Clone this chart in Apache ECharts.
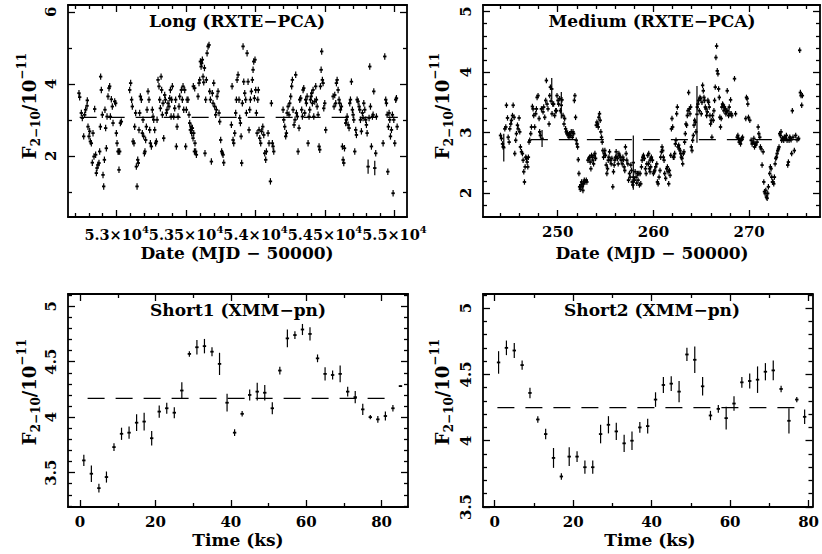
<!DOCTYPE html>
<html>
<head>
<meta charset="utf-8">
<script src="https://cdn.jsdelivr.net/npm/echarts@6/dist/echarts.min.js"></script>
<style>
html, body { margin: 0; padding: 0; background: #fff; }
#chart { width: 822px; height: 554px; }
</style>
</head>
<body>
<div id="chart"></div>
<script>
// Long (RXTE-PCA): [MJD, flux]
var longPts = [
  [52729,3.74],[52734,3.63],[52746,3.19],[52753,3.05],[52763,2.54],[52770,3.14],[52777,3.28],[52787,3.39],[52789,3.54],[52794,2.81],
  [52801,2.54],[52806,2.68],[52811,2.40],[52818,2.35],[52825,1.81],[52830,2.63],[52837,1.98],[52842,3.30],[52849,2.03],[52854,1.52],
  [52859,1.66],[52866,1.75],[52873,1.80],[52878,2.12],[52883,2.81],[52885,4.20],[52890,3.83],[52897,3.14],[52902,1.47],[52907,1.15],
  [52912,1.89],[52916,3.28],[52921,2.77],[52926,2.21],[52931,3.09],[52938,3.65],[52945,3.88],[52950,3.93],[52955,3.09],[52962,3.57],
  [52969,3.37],[52974,2.91],[52986,3.51],[52993,3.46],[52998,2.63],[53003,2.35],[53010,2.12],[53015,2.12],[53017,1.61],[53022,2.12],
  [53027,2.91],[53034,2.95],
  [53094,3.83],[53101,4.02],[53108,3.56],[53113,3.37],[53118,2.40],[53125,2.35],[53130,2.81],[53137,3.19],[53142,1.70],[53147,1.15],
  [53152,1.89],[53156,1.80],[53161,2.72],[53166,3.19],[53171,3.65],[53178,3.56],[53185,2.63],[53190,3.00],[53195,2.54],[53200,2.07],
  [53204,2.12],[53209,2.44],[53214,2.81],[53219,3.28],[53226,3.79],[53233,3.56],[53238,2.72],[53243,2.35],[53250,2.26],[53257,3.28],
  [53262,3.09],[53267,3.00],[53274,2.72],[53281,2.35],[53286,2.40],[53291,3.00],[53298,4.11],[53305,3.93],[53310,3.56],[53315,3.32],
  [53320,4.20],[53324,3.83],[53329,3.14],[53334,3.46],[53339,2.49],[53346,3.69],[53351,3.56],[53358,3.19],[53363,3.28],[53370,3.46],
  [53377,3.37],[53382,3.60],[53387,3.83],[53392,3.09],[53396,3.56],[53401,3.93],
  [53411,3.09],[53418,3.32],[53425,3.56],[53430,2.26],[53435,2.81],[53442,3.09],[53449,3.37],[53454,3.65],[53466,3.83],[53473,3.56],
  [53478,3.93],[53483,3.28],[53490,3.83],[53497,2.26],[53502,3.28],[53507,3.56],[53514,3.56],[53521,3.14],[53526,2.91],[53531,2.72],
  [53536,2.81],[53540,2.63],[53545,2.77],[53550,2.49],[53555,2.63],[53560,2.12],[53564,2.35],[53569,2.12],[53574,2.03],[53552,3.93],
  [53562,3.88],[53586,3.65],[53593,4.02],[53598,4.11],[53603,4.62],[53608,4.48],[53612,4.57],[53617,4.67],[53622,4.20],[53627,4.04],
  [53632,4.44],[53636,2.07],[53641,3.56],[53646,4.11],[53651,4.85],[53658,5.04],[53665,5.08],[53670,3.79],[53675,3.56],[53682,1.84],
  [53689,3.74],[53694,3.46],[53699,4.02],[53706,3.37],[53713,3.14],[53718,3.28],
  [53723,3.65],[53730,3.79],[53737,3.19],[53742,2.95],[53749,2.44],[53756,2.12],[53761,2.07],[53766,2.03],[53771,1.81],[53826,2.86],
  [53831,3.93],[53838,2.44],[53843,2.35],[53850,2.63],[53857,3.19],[53862,3.56],[53867,4.11],[53874,4.25],[53881,3.56],[53886,3.05],
  [53891,2.91],[53896,2.54],[53900,1.80],[53905,3.46],[53910,5.04],[53915,4.06],[53922,3.74],[53929,3.56],[53934,3.19],[53939,4.85],
  [53946,4.06],[53953,2.72],[53958,3.28],[53963,3.56],[53970,3.79],[53977,4.11],[53982,4.39],[53987,4.62],[53992,3.60],[53996,4.67],
  [54001,3.83],[54006,3.19],[54011,2.63],[54016,3.56],[54020,3.83],[54025,2.72],[54030,2.49],[54037,2.35],[54044,2.68],[54052,2.81],
  [54059,2.58],[54066,2.07],[54073,1.89],[54078,2.12],[54090,2.63],[54097,2.35],[54107,1.29],[54114,3.46],[54121,2.35],[54126,2.26],
  [54131,2.12],
  [54198,3.28],[54203,3.00],[54210,2.81],[54217,2.54],[54222,2.63],[54227,3.19],[54234,3.37],[54241,3.14],[54246,3.46],[54253,3.65],
  [54260,3.93],[54265,4.11],[54270,3.28],[54277,2.86],[54284,3.00],[54289,4.25],[54294,3.19],[54301,3.09],[54306,2.12],[54313,2.77],
  [54318,3.56],[54325,3.60],[54332,3.28],[54337,3.09],[54342,3.83],[54347,3.88],[54354,3.19],[54361,3.56],[54366,3.46],[54371,3.65],
  [54378,2.35],[54385,3.09],[54390,3.28],[54395,3.56],[54400,3.65],[54404,3.74],[54409,3.46],[54414,3.83],[54419,3.09],[54426,3.51],
  [54433,3.93],[54438,3.56],[54443,3.37],[54450,3.14],[54457,2.26],[54462,2.17],
  [54467,3.93],[54472,4.39],[54476,4.90],[54481,4.11],[54486,4.02],[54491,3.32],[54498,3.46],[54505,2.72],[54558,3.65],[54565,3.37],
  [54570,3.69],[54577,3.46],[54582,4.02],[54587,4.11],[54594,3.83],[54601,3.56],[54606,3.46],[54611,3.28],[54618,3.37],[54625,2.26],
  [54630,1.89],[54635,1.80],[54640,2.21],[54649,2.91],[54654,3.00],[54659,3.09],[54666,2.86],[54673,2.77],[54678,3.46],[54683,3.56],
  [54690,4.06],[54697,3.28],[54702,3.14],[54707,3.00],[54714,2.12],[54721,2.72],[54726,2.58],[54731,3.56],[54738,3.51],[54745,3.37],
  [54750,3.28],[54755,3.00],[54762,2.68],[54769,3.19],[54774,3.05],[54779,3.46],[54786,3.28],[54793,3.00],[54798,2.86],[54803,2.63],
  [54817,3.05],[54822,4.48],[54827,3.37],[54834,2.26],[54841,3.09],[54846,3.14],[54851,3.79],[54865,2.07],[54870,3.09],
  [54918,2.35],[54930,4.76],[54937,3.56],[54942,3.46],[54947,3.14],[54952,1.56],[54956,2.81],[54961,3.19],[54966,3.00],[54971,2.54],
  [54978,2.72],[54985,3.14],[54990,0.96],[54995,3.00],[55002,2.35],[55009,3.56],[55014,3.60],[55019,2.81]
];
var longErr = 0.09;
// points with larger error bars: [MJD, flux, err]
var longWide = [[54810,1.70,0.2],[54858,1.66,0.2]];
var longMean = 3.07;
var longSpan = [52734, 55024];

// Medium (RXTE-PCA): [MJD-50000, flux]
var medPts = [
  [244.03,2.95],[244.13,2.90],[244.24,2.81],[244.31,2.76],[244.48,3.06],[244.58,3.09],[244.65,3.45],[244.76,3.24],[244.83,2.92],[244.93,2.84],
  [245.00,3.06],[245.10,3.14],[245.17,3.20],[245.28,3.28],[245.35,3.45],[245.45,3.25],[245.52,2.65],[245.62,2.87],[245.69,2.98],[245.80,3.12],
  [245.87,3.06],[245.97,3.24],[246.04,3.01],[246.11,2.76],[246.22,2.68],[246.32,2.65],[246.39,2.54],[246.46,2.35],[246.53,2.18],[246.60,2.43],
  [246.67,2.59],[246.74,2.57],[246.81,2.51],[246.88,2.43],[246.94,2.59],[247.01,2.84],[247.08,2.87],[247.19,2.98],[247.26,3.09],[247.36,3.43],
  [247.43,3.39],[247.50,3.28],[247.60,3.09],[247.71,3.31],[247.78,3.39],[247.85,3.58],[247.95,3.61],[248.06,3.23],[248.12,3.01],[248.19,2.95],
  [248.30,3.39],[248.47,3.34],[248.54,3.42],[248.65,3.25],[248.75,3.53],[248.82,3.86],[248.89,3.47],[248.99,3.39],[249.10,3.14],[249.17,3.61],
  [249.24,3.75],[249.31,3.52],[249.41,3.31],[249.48,3.47],[249.58,3.47],[249.69,3.28],[249.79,3.36],[249.86,3.36],[249.93,3.61],[250.03,3.53],
  [250.10,3.47],[250.21,3.56],[250.28,3.36],[250.45,3.54],[250.56,3.28],[250.66,3.14],[250.73,3.23],[250.83,3.06],[250.90,3.01],[250.97,2.98],
  [251.04,2.99],[251.11,2.95],[251.18,2.92],[251.25,2.98],[251.32,2.95],[251.42,3.01],[251.53,2.92],[251.60,3.01],[251.67,2.98],[251.74,3.53],
  [251.80,3.61],[251.87,3.25],[251.94,2.87],[252.01,2.81],[252.08,2.76],[252.15,2.55],[252.22,2.32],[252.29,2.10],[252.36,2.06],[252.43,2.13],
  [252.50,2.18],[252.57,2.10],[252.64,2.04],[252.71,2.15],[252.78,2.21],[252.85,2.18],[252.99,2.21],[253.05,2.18],[253.16,2.54],[253.26,2.57],
  [253.33,2.59],[253.40,2.51],[253.47,2.40],[253.54,2.62],[253.61,2.59],[253.68,2.54],[253.75,2.48],[253.82,2.62],[253.89,2.65],[253.96,2.57],
  [254.03,3.12],[254.10,3.17],[254.17,3.14],[254.24,3.09],[254.30,3.25],[254.37,3.31],[254.44,3.20],[254.51,3.01],[254.58,2.92],[254.65,2.84],
  [254.72,2.70],[254.79,2.59],[254.86,2.65],[254.93,2.70],[255.00,2.62],[255.07,2.46],[255.14,2.32],[255.21,2.40],[255.28,2.54],[255.35,2.59],
  [255.42,2.68],[255.49,2.54],[255.59,2.48],[255.66,2.57],[255.76,2.10],[255.83,2.35],[255.90,2.46],[255.97,2.54],[256.04,2.59],[256.11,2.68],
  [256.18,2.60],[256.25,2.57],[256.32,2.48],[256.39,2.65],[256.46,2.62],[256.53,2.59],[256.63,2.54],[256.74,2.48],[256.81,2.59],[256.88,2.55],
  [256.94,2.43],[257.01,2.37],[257.08,2.76],[257.15,2.65],[257.22,2.54],[257.33,2.48],[257.40,2.21],[257.50,2.32],[257.57,2.26],[257.64,2.46],
  [257.71,2.37],[257.78,2.18],[257.85,2.13],[257.92,2.26],[258.02,2.21],[258.09,2.35],[258.19,2.26],[258.26,2.16],[258.33,2.32],[258.40,2.21],
  [258.47,2.32],[258.54,2.13],[258.61,2.32],[258.68,2.15],[258.75,2.43],[258.82,2.54],[258.89,2.59],[258.96,2.62],[259.06,2.57],[259.17,2.40],
  [259.24,2.32],[259.31,2.48],[259.41,2.62],[259.51,2.65],[259.58,2.40],[259.65,2.54],[259.76,2.57],
  [259.48,2.48],[259.65,2.35],[259.72,2.43],[259.79,2.59],[259.90,2.54],[260.00,2.32],[260.07,2.35],[260.14,2.37],[260.24,2.43],[260.35,2.48],
  [260.42,2.18],[260.49,2.15],[260.59,2.26],[260.69,2.37],[260.76,2.59],[260.83,2.68],[260.90,2.76],[260.97,2.70],[261.04,2.59],[261.11,2.54],
  [261.18,2.32],[261.28,2.24],[261.39,2.40],[261.46,2.43],[261.53,2.35],[261.60,2.15],[261.67,2.37],[261.74,2.29],[261.81,2.62],[261.88,3.06],
  [261.94,3.23],[262.01,3.09],[262.08,2.59],[262.15,2.59],[262.22,2.65],[262.29,2.81],[262.36,2.87],[262.43,3.31],[262.50,3.42],[262.57,2.76],
  [262.64,2.79],[262.71,2.73],[262.78,2.70],[262.85,2.65],[262.92,2.59],[262.99,2.57],[263.06,2.48],[263.13,2.65],[263.19,2.68],[263.26,2.84],
  [263.33,2.98],[263.40,3.14],[263.47,3.12],[263.54,3.28],[263.61,3.36],[263.68,3.66],[263.75,3.39],[263.82,3.31],[263.89,3.42],[263.96,2.76],
  [264.03,2.70],[264.10,2.87],[264.17,2.95],[264.24,3.12],[264.31,3.20],[264.38,3.17],[264.44,3.01],[264.58,3.42],[264.65,3.47],[264.72,3.53],
  [264.79,3.36],[264.86,3.58],[264.93,3.56],[265.00,3.31],[265.07,3.50],[265.14,3.78],[265.21,3.69],[265.28,3.58],[265.35,3.53],[265.42,3.42],
  [265.49,3.39],[265.56,3.28],[265.63,3.34],[265.69,3.53],[265.76,3.50],[265.83,3.42],[265.90,3.28],[265.97,3.14],[266.04,3.20],[266.11,2.92],
  [266.18,3.28],[266.25,3.20],[266.32,3.36],[266.39,3.53],[266.46,3.75],[266.53,4.24],[266.60,4.43],[266.67,4.02],[266.74,3.97],[266.81,3.72],
  [266.88,3.58],[266.94,3.25],[267.01,3.09],[267.08,3.23],[267.15,3.42],[267.22,3.47],[267.29,3.45],[267.36,3.36],[267.43,3.42],[267.50,3.39],
  [267.57,3.31],[267.64,3.34],[267.71,3.69],[267.78,3.36],[267.85,3.28],[267.92,3.42],[267.99,3.31],[268.06,3.54],[268.12,3.31],[268.19,3.28],
  [268.47,3.89],[268.58,3.31],[268.75,2.92],[268.82,2.95],[268.89,2.90],[268.96,2.84],[269.03,2.87],[269.10,2.81],[269.17,2.87],[269.24,2.90],
  [269.31,2.92],[269.65,3.23],[269.72,3.58],[269.79,3.56],[269.86,3.47],[269.93,3.25],[270.07,3.20],[270.21,2.87],[270.31,2.81],[270.42,2.84],
  [270.49,2.90],[270.56,2.76],[270.63,2.81],[270.69,2.79],[270.83,2.84],[270.94,3.09],[271.01,2.98],[271.11,2.92],[271.18,2.76],[271.25,2.73],
  [271.35,2.46],[271.46,2.68],[271.53,2.18],[271.60,2.02],[271.67,1.99],[271.74,2.04],[271.81,1.93],[271.88,1.91],[271.94,1.99],[272.01,2.10],
  [272.15,2.32],[272.22,2.43],[272.29,2.40],[272.36,2.26],[272.43,2.18],[272.50,2.18],[272.57,2.15],[272.64,2.26],[272.71,2.48],[272.78,2.57],
  [272.85,2.59],[272.92,2.65],[272.99,2.70],[273.06,2.73],[273.12,2.76],[273.19,2.98],[273.26,2.95],[273.33,3.01],[273.40,2.87],[273.47,2.90],
  [273.54,2.90],[273.61,2.87],[273.68,2.92],[273.78,2.90],[273.89,2.95],[273.96,2.87],[274.03,2.46],[274.10,2.51],[274.17,2.87],[274.24,2.92],
  [274.31,2.90],[274.38,2.88],[274.44,2.65],[274.51,3.36],[274.58,2.92],[274.72,2.70],[274.86,2.95],[275.00,2.88],[275.17,2.90],[275.28,4.36],
  [275.35,3.66],[275.42,3.61],[275.49,3.45],[275.56,3.61]
];
var medErr = 0.045;
var medWide = [[244.37,2.75,0.23],[248.37,2.90,0.14],[249.38,3.72,0.18],[250.38,3.45,0.22],[257.90,2.50,0.45],[264.55,3.30,0.47]];
var medMean = 2.88;
var medSpan = [247.2, 275.3];

// Short1 (XMM-pn)
var s1Time = [1,3,5,7,9,11,13,15,17,19,21,23,25,27,29,31,33,35,37,39,41,43,45,47,49,51,53,55,57,59,61,63,65,67,69,71,73,75,77,79,81,83,85];
var s1Flux = [3.61,3.49,3.36,3.46,3.73,3.85,3.86,3.95,3.96,3.81,4.05,4.08,4.04,4.24,4.57,4.63,4.64,4.59,4.48,4.13,3.86,4.03,4.20,4.23,4.22,4.08,4.42,4.71,4.74,4.79,4.75,4.53,4.39,4.38,4.39,4.23,4.18,4.07,4.00,3.98,4.01,4.08,4.28];
var s1Err = [0.05,0.075,0.04,0.05,0.035,0.055,0.055,0.075,0.08,0.065,0.055,0.05,0.05,0.075,0.025,0.065,0.065,0.04,0.1,0.08,0.03,0.025,0.05,0.08,0.07,0.055,0.035,0.08,0.035,0.05,0.06,0.035,0.06,0.04,0.075,0.045,0.055,0.05,0.02,0.03,0.04,0.03,0.005];
var s1Mean = 4.17;
var s1Span = [2, 81];

// Short2 (XMM-pn)
var s2Time = [1,3,5,7,9,11,13,15,17,19,21,23,25,27,29,31,33,35,37,39,41,43,45,47,49,51,53,55,57,59,61,63,65,67,69,71,73,75,77,79];
var s2Flux = [4.59,4.70,4.68,4.57,4.36,4.16,4.05,3.87,3.73,3.88,3.88,3.80,3.80,4.05,4.12,4.07,3.98,4.00,4.10,4.11,4.31,4.42,4.43,4.37,4.65,4.61,4.41,4.19,4.24,4.17,4.28,4.44,4.45,4.46,4.52,4.53,4.39,4.15,4.31,4.18];
var s2Err = [0.085,0.055,0.057,0.035,0.04,0.025,0.04,0.075,0.025,0.07,0.04,0.05,0.05,0.07,0.065,0.065,0.065,0.07,0.04,0.055,0.055,0.06,0.055,0.08,0.05,0.1,0.07,0.035,0.03,0.085,0.055,0.04,0.057,0.1,0.065,0.075,0.025,0.095,0.02,0.055];
var s2Mean = 4.25;
var s2Span = [0.7, 77];

// tick labels
var longXTicks = [53000, 53500, 54000, 54500, 55000];
var medXTicks = [250, 260, 270];
var shortXTicks = [0, 20, 40, 60, 80];
var longYTicks = [2, 4, 6];
var medYTicks = [2, 3, 4, 5];
var shortYTicks = [3.5, 4, 4.5, 5];

var FONT = '"DejaVu Serif", serif';
var INK = '#000';

function steps(a, b, step, skip) {
  var out = [];
  for (var v = a; v <= b + 1e-9; v += step) {
    var r = Math.round(v * 1000) / 1000;
    if (skip.indexOf(r) < 0) out.push(r);
  }
  return out;
}

var grids = [], xAxes = [], yAxes = [], series = [];

function makeAxis(dim, g, pos, r, isMajor, withLabels) {
  var ax = {
    type: 'value', gridIndex: g, position: pos, min: r.min, max: r.max,
    axisLine: { show: isMajor, onZero: false, lineStyle: { color: INK, width: 1.8 } },
    axisTick: {
      show: true, inside: true, length: isMajor ? 7 : 4,
      customValues: isMajor ? r.major : r.minor,
      lineStyle: { color: INK, width: 1.3 }
    },
    axisLabel: { show: false },
    splitLine: { show: false }
  };
  if (withLabels) {
    ax.axisLabel = {
      show: true, customValues: r.major, formatter: r.fmt, color: INK,
      fontFamily: FONT, fontSize: 15, fontWeight: 'bold', hideOverlap: false,
      showMinLabel: true, showMaxLabel: true,
      margin: dim === 'x' ? 7 : 10, rotate: dim === 'y' ? 90 : 0,
      rich: r.rich
    };
  }
  return ax;
}

function errorBar(params, api) {
  var x = api.value(0), y = api.value(1), e = api.value(2);
  var p = api.coord([x, y]);
  var hi = api.coord([x, y + e]);
  var lo = api.coord([x, y - e]);
  return {
    type: 'group',
    children: [
      { type: 'line', shape: { x1: p[0], y1: hi[1], x2: p[0], y2: lo[1] }, style: { stroke: INK, lineWidth: 1.2 } },
      { type: 'line', shape: { x1: p[0] - 1.7, y1: p[1], x2: p[0] + 1.7, y2: p[1] }, style: { stroke: INK, lineWidth: 1.8 } }
    ]
  };
}

function addPanel(p) {
  var g = grids.length;
  grids.push(p.grid);
  var xi = xAxes.length, yi = yAxes.length;
  xAxes.push(makeAxis('x', g, 'bottom', p.x, true, true));
  xAxes.push(makeAxis('x', g, 'bottom', p.x, false, false));
  xAxes.push(makeAxis('x', g, 'top', p.x, true, false));
  xAxes.push(makeAxis('x', g, 'top', p.x, false, false));
  yAxes.push(makeAxis('y', g, 'left', p.y, true, true));
  yAxes.push(makeAxis('y', g, 'left', p.y, false, false));
  yAxes.push(makeAxis('y', g, 'right', p.y, true, false));
  yAxes.push(makeAxis('y', g, 'right', p.y, false, false));
  series.push({
    type: 'line', xAxisIndex: xi, yAxisIndex: yi, silent: true, symbol: 'none', z: 1,
    data: [[p.span[0], p.mean], [p.span[1], p.mean]],
    lineStyle: { color: INK, width: 1.3, type: [17, 11] }
  });
  series.push({
    type: 'custom', xAxisIndex: xi, yAxisIndex: yi, silent: true, clip: true, z: 2,
    renderItem: errorBar, encode: { x: 0, y: 1 }, data: p.data
  });
}

function plain(v) { return String(v); }

addPanel({
  grid: { left: 68, top: 5, width: 339, height: 212 },
  x: { min: 52650, max: 55090, major: longXTicks,
       minor: steps(52700, 55000, 100, longXTicks),
       fmt: function (v) { return '{b|' + (v / 10000) + '×10}{s|4}'; },
       rich: { b: { fontFamily: FONT, fontSize: 14.5, fontWeight: 'bold', lineHeight: 20, color: INK },
               s: { fontFamily: FONT, fontSize: 10, fontWeight: 'bold', lineHeight: 10, verticalAlign: 'top', color: INK } } },
  y: { min: 0.3, max: 6.19, major: longYTicks, minor: [1, 3, 5], fmt: plain },
  span: longSpan, mean: longMean,
  data: longPts.map(function (d) { return [d[0], d[1], longErr]; }).concat(longWide)
});

addPanel({
  grid: { left: 483, top: 5, width: 337, height: 212 },
  x: { min: 242.2, max: 277.4, major: medXTicks, minor: steps(244, 276, 2, medXTicks), fmt: plain },
  y: { min: 1.6, max: 5.11, major: medYTicks, minor: steps(1.8, 5, 0.2, medYTicks), fmt: plain },
  span: medSpan, mean: medMean,
  data: medPts.map(function (d) { return [d[0], d[1], medErr]; }).concat(medWide)
});

addPanel({
  grid: { left: 68, top: 294, width: 340, height: 213 },
  x: { min: -3.2, max: 87.0, major: shortXTicks, minor: [10, 30, 50, 70], fmt: plain },
  y: { min: 3.19, max: 5.11, major: shortYTicks, minor: steps(3.2, 5.1, 0.1, shortYTicks), fmt: plain },
  span: s1Span, mean: s1Mean,
  data: s1Time.map(function (t, i) { return [t, s1Flux[i], s1Err[i]]; })
});

addPanel({
  grid: { left: 483, top: 294, width: 331, height: 213 },
  x: { min: -2.97, max: 81.0, major: shortXTicks, minor: [10, 30, 50, 70], fmt: plain },
  y: { min: 3.5, max: 5.106, major: shortYTicks, minor: steps(3.6, 5.1, 0.1, shortYTicks), fmt: plain },
  span: s2Span, mean: s2Mean,
  data: s2Time.map(function (t, i) { return [t, s2Flux[i], s2Err[i]]; })
});

function label(x, y, text, size) {
  return {
    type: 'text', x: x, y: y, silent: true,
    style: { text: text, align: 'center', verticalAlign: 'middle', fill: INK,
             fontFamily: FONT, fontSize: size, fontWeight: 'bold' }
  };
}

function yName(x, y) {
  return {
    type: 'text', x: x, y: y, rotation: Math.PI / 2, silent: true,
    style: {
      text: '{f|F}{sb|2−10}{f|/10}{sp|−11}', align: 'center', verticalAlign: 'middle', fill: INK,
      rich: {
        f: { fontFamily: FONT, fontSize: 18, fontWeight: 'bold', lineHeight: 26, fill: INK },
        sb: { fontFamily: FONT, fontSize: 12, fontWeight: 'bold', lineHeight: 12, verticalAlign: 'bottom', fill: INK },
        sp: { fontFamily: FONT, fontSize: 12, fontWeight: 'bold', lineHeight: 12, verticalAlign: 'top', fill: INK }
      }
    }
  };
}

var chart = echarts.init(document.getElementById('chart'), null, { renderer: 'svg' });
chart.setOption({
  backgroundColor: '#fff',
  animation: false,
  grid: grids,
  xAxis: xAxes,
  yAxis: yAxes,
  series: series,
  graphic: [
    label(237, 21, 'Long (RXTE−PCA)', 17),
    label(652, 21, 'Medium (RXTE−PCA)', 17),
    label(238, 310, 'Short1 (XMM−pn)', 17),
    label(652, 310, 'Short2 (XMM−pn)', 17),
    label(237, 253, 'Date (MJD − 50000)', 17),
    label(652, 253, 'Date (MJD − 50000)', 17),
    label(238, 540, 'Time (ks)', 17),
    label(650, 540, 'Time (ks)', 17),
    yName(29, 106),
    yName(442, 106),
    yName(29, 392),
    yName(442, 392)
  ]
});
</script>
</body>
</html>
